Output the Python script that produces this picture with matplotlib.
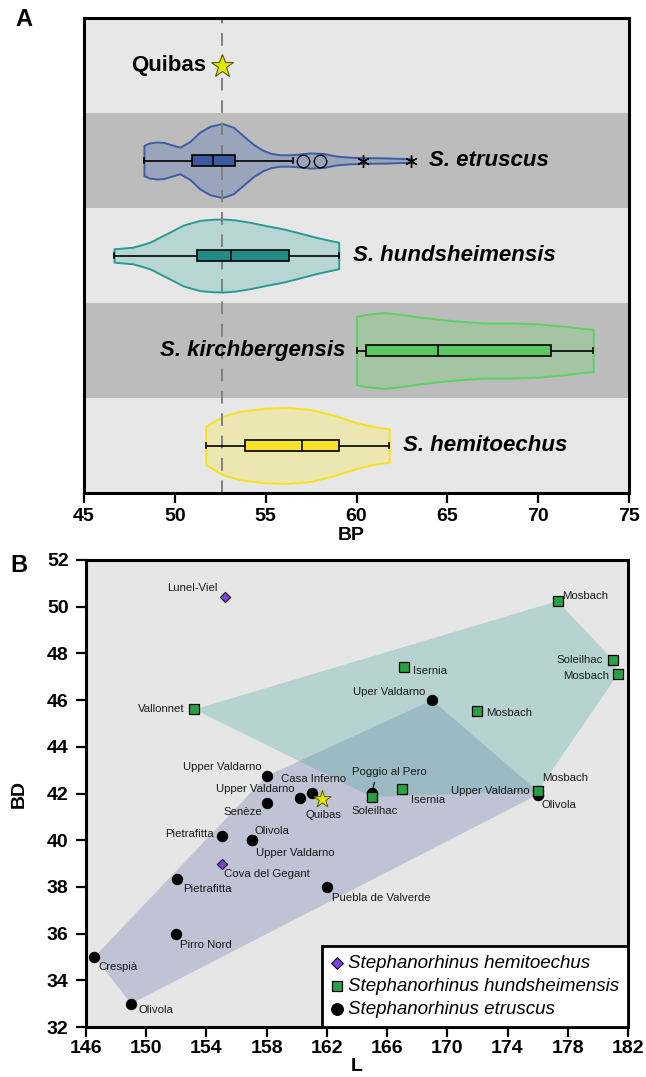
import numpy as np
import matplotlib
matplotlib.use('Agg')
import matplotlib.pyplot as plt
from matplotlib import font_manager

installed = {f.name for f in font_manager.fontManager.ttflist}
narrow = 'Liberation Sans Narrow' if 'Liberation Sans Narrow' in installed else 'Liberation Sans'
plt.rcParams['font.family'] = ['Liberation Sans', 'DejaVu Sans']

# ---------------- A: BP by species ----------------
species = ['S. etruscus', 'S. hundsheimensis', 'S. kirchbergensis', 'S. hemitoechus']
quibas_bp = 52.6

# box plot stats
whislo = [48.3, 46.65, 60.0, 51.7]
q1 = [50.96, 51.2, 60.5, 53.86]
med = [52.08, 53.09, 64.49, 56.98]
q3 = [53.33, 56.27, 70.72, 59.05]
whishi = [56.49, 59.02, 73.03, 61.8]
etr_outliers = [57.05, 57.99]
etr_extremes = [60.37, 63.0]

# violin outlines (BP, half width)
etr_vx = [48.30, 48.6, 49.0, 49.4, 49.73, 50.28, 50.83, 51.38, 51.93, 52.61, 53.22, 53.77,
          54.32, 54.87, 55.3, 55.8, 56.3, 56.7, 57.44, 58.17, 58.91, 59.64, 60.37, 61.47,
          62.57, 63.03]
etr_vw = [0.16, 0.185, 0.195, 0.19, 0.17, 0.14, 0.20, 0.30, 0.36, 0.39, 0.35, 0.26,
          0.17, 0.105, 0.075, 0.06, 0.06, 0.065, 0.08, 0.074, 0.046, 0.035, 0.03, 0.028,
          0.021, 0.018]
hun_vx = [46.65, 47.71, 48.63, 49.55, 50.46, 51.38, 52.0, 52.61, 53.3, 54.13, 55.0,
          55.97, 56.9, 57.80, 58.5, 59.02]
hun_vw = [0.07, 0.088, 0.14, 0.23, 0.32, 0.37, 0.38, 0.385, 0.375, 0.35, 0.315,
          0.28, 0.235, 0.19, 0.16, 0.14]
kir_vx = [60.0, 60.5, 61.5, 62.5, 63.5, 64.5, 65.5, 67.0, 68.5, 70.0, 71.5, 72.5, 73.03]
kir_vw = [0.36, 0.38, 0.40, 0.38, 0.35, 0.33, 0.31, 0.29, 0.29, 0.28, 0.255, 0.23, 0.225]
hem_vx = [51.70, 52.2, 52.68, 53.59, 54.87, 56.15, 57.44, 58.72, 60.01, 60.9, 61.80]
hem_vw = [0.20, 0.26, 0.31, 0.36, 0.39, 0.40, 0.38, 0.32, 0.24, 0.20, 0.175]

# ---------------- B: L vs BD ----------------
etr_sites = ['Upper Valdarno', 'Upper Valdarno', 'Senèze', 'Casa Inferno', 'Pietrafitta',
             'Olivola', 'Upper Valdarno', 'Pietrafitta', 'Pirro Nord', 'Crespià', 'Olivola',
             'Puebla de Valverde', 'Poggio al Pero', 'Uper Valdarno', 'Upper Valdarno', 'Olivola']
etr_L = [158.0, 160.2, 158.0, 161.0, 155.0, 157.0, 157.0, 152.06, 152.0, 146.55, 149.0,
         162.0, 165.0, 169.0, 176.0, 176.0]
etr_BD = [42.75, 41.8, 41.6, 42.03, 40.2, 40.0, 40.0, 38.32, 36.0, 35.0, 33.0,
          38.0, 42.03, 46.0, 42.1, 41.95]

hun_sites = ['Vallonnet', 'Mosbach', 'Soleilhac', 'Mosbach', 'Isernia', 'Mosbach',
             'Soleilhac', 'Isernia', 'Mosbach']
hun_L = [153.2, 177.32, 181.0, 181.35, 167.1, 172.0, 165.0, 167.0, 176.0]
hun_BD = [45.6, 50.24, 47.72, 47.12, 47.43, 45.53, 41.85, 42.2, 42.1]

hem_sites = ['Lunel-Viel', 'Cova del Gegant']
hem_L = [155.2, 155.0]
hem_BD = [50.4, 39.0]

quibas_L = 161.65
quibas_BD = 41.75

# label placement: (dx, dy) in pixels, horizontal alignment
etr_offs = [(-5, 9, 'right'), (-5, 9, 'right'), (-4, -9, 'right'), (2, 14, 'center'),
            (-8, 2, 'right'), (3, 9, 'left'), (4, -13, 'left'), (6, -10, 'left'),
            (4, -11, 'left'), (4, -10, 'left'), (7, -6, 'left'), (5, -11, 'left'),
            (17, 21, 'center'), (-7, 8, 'right'), (-8, 0, 'right'), (4, -10, 'left')]
hun_offs = [(-10, 0, 'right'), (5, 5, 'left'), (-10, 0, 'right'), (-9, -2, 'right'),
            (9, -4, 'left'), (9, -2, 'left'), (3, -14, 'center'), (9, -11, 'left'),
            (4, 13, 'left')]
hem_offs = [(-7, 9, 'right'), (3, -10, 'left')]

box_col = ['#3a5a9f', '#218c86', '#5ac860', '#f7e229']
violin_fill = ['#9aa4ba', '#b7d5d3', '#a4c4a3', '#ece6b3']
violin_edge = ['#3f5ca6', '#2b9994', '#5ed163', '#f6e21e']
star_col = '#e0ea00'


def convex_hull(xs, ys):
    pts = sorted(set(zip(xs, ys)))

    def cross(o, a, b):
        return (a[0] - o[0]) * (b[1] - o[1]) - (a[1] - o[1]) * (b[0] - o[0])

    lower, upper = [], []
    for p in pts:
        while len(lower) >= 2 and cross(lower[-2], lower[-1], p) <= 0:
            lower.pop()
        lower.append(p)
    for p in reversed(pts):
        while len(upper) >= 2 and cross(upper[-2], upper[-1], p) <= 0:
            upper.pop()
        upper.append(p)
    return np.array(lower[:-1] + upper[:-1])


fig = plt.figure(figsize=(6.46, 10.77), dpi=100)

# ---------------- panel A ----------------
axA = fig.add_axes([84 / 646, 1 - 493 / 1077, 545 / 646, 475 / 1077])
for i in range(5):
    axA.axhspan(i - 0.5, i + 0.5, color='#e7e7e7' if i % 2 == 0 else '#bcbcbc', lw=0, zorder=0)

profiles = [(etr_vx, etr_vw), (hun_vx, hun_vw), (kir_vx, kir_vw), (hem_vx, hem_vw)]
for i, (vx, vw) in enumerate(profiles):
    y0 = i + 1
    vx = np.array(vx)
    vw = np.array(vw)
    axA.fill_between(vx, y0 - vw, y0 + vw, facecolor=violin_fill[i],
                     edgecolor=violin_edge[i], lw=1.4, zorder=1)

axA.axvline(quibas_bp, color='#808080', lw=1.4, ls=(0, (6.5, 5)), zorder=2)

stats = []
for i in range(4):
    stats.append(dict(whislo=whislo[i], q1=q1[i], med=med[i], q3=q3[i], whishi=whishi[i],
                      fliers=etr_outliers if i == 0 else []))
bp = axA.bxp(stats, positions=[1, 2, 3, 4], widths=0.11, orientation='horizontal',
             patch_artist=True, manage_ticks=False, capwidths=0.05,
             boxprops=dict(edgecolor='black', lw=1.2),
             whiskerprops=dict(color='black', lw=1.2),
             capprops=dict(color='black', lw=1.2),
             medianprops=dict(color='black', lw=1.2),
             flierprops=dict(marker='o', mfc='none', mec='black', ms=9, mew=1.0),
             zorder=3)
for patch, c in zip(bp['boxes'], box_col):
    patch.set_facecolor(c)
axA.plot(etr_extremes, [1] * len(etr_extremes), ls='none', marker=(6, 2, 0), ms=9,
         mec='black', mew=1.0, zorder=4)

axA.plot(quibas_bp, 0, marker='*', ms=17, mfc=star_col, mec='#5a5a00', mew=0.8, zorder=4)
axA.text(51.7, 0, 'Quibas', ha='right', va='center', fontsize=16, fontweight='bold')

label_x = [64.0, 59.8, 59.4, 62.55]
label_ha = ['left', 'left', 'right', 'left']
for i, name in enumerate(species):
    axA.text(label_x[i], i + 1, name, ha=label_ha[i], va='center', fontsize=16,
             fontweight='bold', fontstyle='italic')

axA.set_xlim(45, 75)
axA.set_ylim(4.5, -0.5)
axA.set_yticks([])
ticksA = list(range(45, 76, 5))
axA.set_xticks(ticksA, labels=[str(t) for t in ticksA], fontfamily=narrow,
               fontweight='bold', fontsize=14)
axA.tick_params(axis='x', length=7.5, width=1.6, pad=3)
axA.set_xlabel('BP', fontfamily=narrow, fontweight='bold', fontsize=14)
axA.xaxis.set_label_coords(0.49, -0.072)
axA.xaxis.label.set_va('top')
for sp in axA.spines.values():
    sp.set_linewidth(2.2)

# ---------------- panel B ----------------
axB = fig.add_axes([86 / 646, 1 - 1027 / 1077, 542 / 646, 467 / 1077])
axB.set_facecolor('#e6e6e6')

h = convex_hull(etr_L, etr_BD)
axB.fill(h[:, 0], h[:, 1], color='#6775aa', alpha=0.3, lw=0, zorder=1)
h = convex_hull(hun_L, hun_BD)
axB.fill(h[:, 0], h[:, 1], color='#49a7a3', alpha=0.3, lw=0, zorder=1)

h_etr = axB.scatter(etr_L, etr_BD, s=7.2 ** 2, marker='o', color='black', zorder=4,
                    label='Stephanorhinus etruscus')
h_hun = axB.scatter(hun_L, hun_BD, s=6.7 ** 2, marker='s', facecolor='#27a243',
                    edgecolor='black', lw=0.9, zorder=4, label='Stephanorhinus hundsheimensis')
h_hem = axB.scatter(hem_L, hem_BD, s=5.2 ** 2, marker='D', facecolor='#8040e8',
                    edgecolor='black', lw=0.8, zorder=4, label='Stephanorhinus hemitoechus')
axB.scatter([quibas_L], [quibas_BD], s=13 ** 2, marker='*', facecolor=star_col,
            edgecolor='#5a5a00', lw=0.7, zorder=5)

groups = [(etr_sites, etr_L, etr_BD, etr_offs),
          (hun_sites, hun_L, hun_BD, hun_offs),
          (hem_sites, hem_L, hem_BD, hem_offs),
          (['Quibas'], [quibas_L], [quibas_BD], [(2, -16, 'center')])]
for sites, xs, ys, offs in groups:
    for s, x, y, (dx, dy, ha) in zip(sites, xs, ys, offs):
        arrow = None
        if s == 'Poggio al Pero':
            arrow = dict(arrowstyle='-', color='black', lw=0.8, relpos=(0.32, 0),
                         shrinkA=2, shrinkB=4)
        axB.annotate(s, (x, y), xytext=(dx, dy), textcoords='offset pixels', ha=ha,
                     va='center', fontsize=8.2, color='#1a1a1a', arrowprops=arrow, zorder=3)

leg = axB.legend(handles=[h_hem, h_hun, h_etr], loc='lower right', bbox_to_anchor=(1, 0),
                 borderaxespad=0, fancybox=False, framealpha=1, edgecolor='black',
                 prop=dict(family='Liberation Sans', style='italic', size=13.5),
                 handlelength=0.6, handletextpad=0.25, labelspacing=0.3, borderpad=0.5,
                 markerscale=1.15)
leg.get_frame().set_linewidth(2)
leg.set_zorder(6)

axB.set_xlim(146, 182)
axB.set_ylim(32, 52)
ticksBx = list(range(146, 183, 4))
ticksBy = list(range(32, 53, 2))
axB.set_xticks(ticksBx, labels=[str(t) for t in ticksBx], fontfamily=narrow,
               fontweight='bold', fontsize=14)
axB.set_yticks(ticksBy, labels=[str(t) for t in ticksBy], fontfamily=narrow,
               fontweight='bold', fontsize=14)
axB.tick_params(axis='both', length=7.5, width=1.6)
axB.tick_params(axis='x', pad=2)
axB.tick_params(axis='y', pad=5)
axB.set_xlabel('L', fontfamily=narrow, fontweight='bold', fontsize=14)
axB.xaxis.set_label_coords(0.5, -0.066)
axB.xaxis.label.set_va('top')
axB.set_ylabel('BD', fontfamily=narrow, fontweight='bold', fontsize=14)
axB.yaxis.set_label_coords(-0.108, 0.5)
for sp in axB.spines.values():
    sp.set_linewidth(2.2)

fig.text(15 / 646, 1 - 20 / 1077, 'A', fontsize=17, fontweight='bold', va='center', ha='left')
fig.text(10 / 646, 1 - 566 / 1077, 'B', fontsize=17, fontweight='bold', va='center', ha='left')

fig.savefig('out.png', dpi=100)
